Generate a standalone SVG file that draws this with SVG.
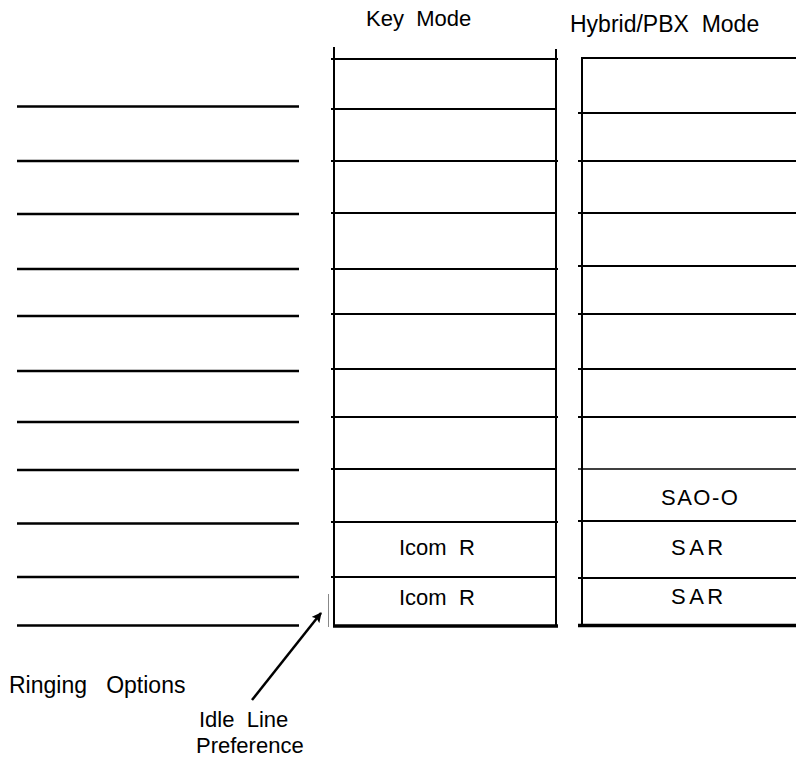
<svg xmlns="http://www.w3.org/2000/svg" width="796" height="758" viewBox="0 0 796 758">
<defs>
<style>
.t{font-family:"Liberation Sans",Arial,sans-serif;font-size:22px;fill:#000;white-space:pre}
.l{stroke:#000;stroke-width:2.5;fill:none}
.g{stroke:#000;stroke-width:2;fill:none}
.b{stroke:#000;stroke-width:3.5;fill:none}
</style>
<marker id="ah" markerWidth="10" markerHeight="10" refX="9" refY="5" orient="auto" markerUnits="userSpaceOnUse" viewBox="0 0 10 10">
<path d="M0,0 L10,5 L0,10 L2,5 z" fill="#000"/>
</marker>
</defs>
<rect width="796" height="758" fill="#fff"/>
<g id="headers">
<text class="t" x="366" y="26">Key  Mode</text>
<text class="t" x="570" y="32" style="font-size:23px">Hybrid/PBX  Mode</text>
</g>
<g id="ringing-options">
<path class="l" d="M17,106.5H299M17,161H299M17,214H299M17,269H299M17,316H299M17,371H299M17,422H299M17,470H299M17,523.5H299M17,577H299M17,625.5H299"/>
<text class="t" x="9" y="693" style="font-size:23px">Ringing   Options</text>
</g>
<g id="key-mode">
<path class="g" d="M334,47V627M556,49V627"/>
<path class="g" d="M331,59H558M331,109H556M331,161H558M331,213H556M331,269H558M331,314H556M331,369H556M331,417H558M331,469H556M331,522H558M331,577H556"/>
<path class="b" d="M333,626H558"/>
<text class="t" x="399" y="555">Icom  R</text>
<text class="t" x="399" y="605">Icom  R</text>
</g>
<g id="hybrid-pbx-mode">
<path class="g" d="M582,57V627M582,58H796"/>
<path class="g" d="M578,113H796M578,161H796M578,213H796M578,266H796M578,314H796M578,369H796M578,417H796M578,521H796M578,578H796"/>
<path stroke="#000" stroke-width="1.3" d="M578,469H796"/>
<path class="b" d="M578,625.5H796"/>
<text class="t" x="661" y="505" letter-spacing="1.5">SAO-O</text>
<text class="t" x="671" y="555" letter-spacing="3.5">SAR</text>
<text class="t" x="671" y="604" letter-spacing="3.5">SAR</text>
</g>
<g id="idle-line-preference">
<path stroke="#888" stroke-width="1" d="M328.5,594V627"/>
<text class="t" x="199" y="727">Idle  Line</text>
<text class="t" x="196" y="753">Preference</text>
</g>
<g id="connectors">
<path d="M252,700L321,613" stroke="#000" stroke-width="2.5" fill="none" marker-end="url(#ah)"/>
</g>
</svg>
